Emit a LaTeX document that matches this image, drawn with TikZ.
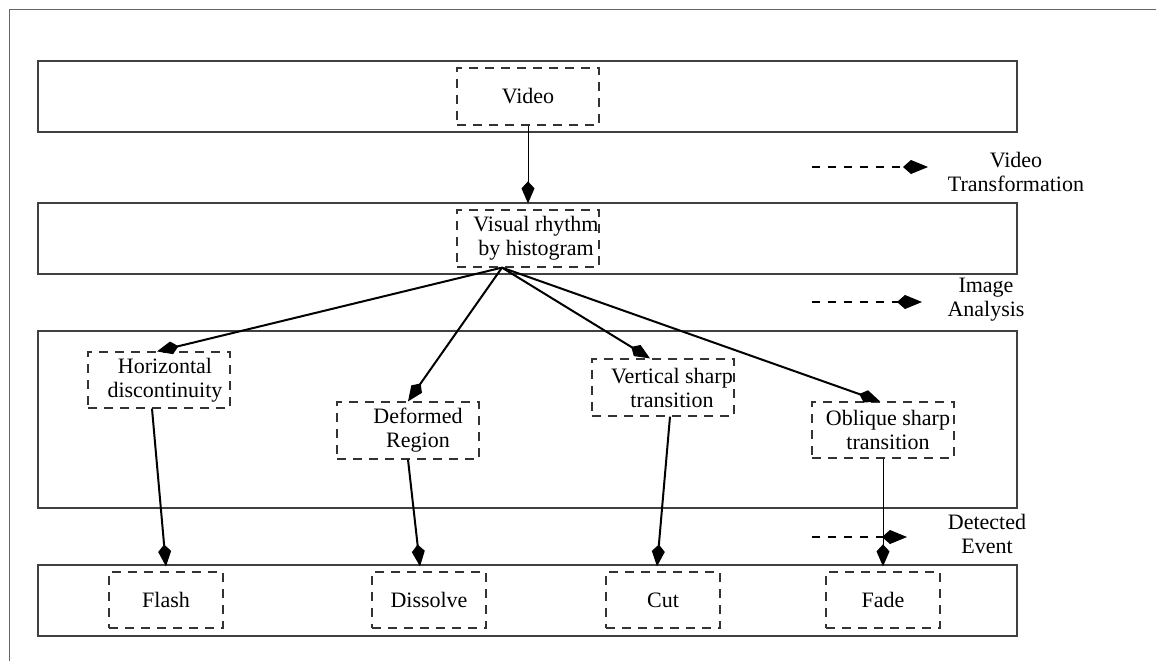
\documentclass[tikz,border=0pt]{standalone}
\usepackage{fontspec}
\setmainfont{Liberation Serif}
\usetikzlibrary{arrows.meta,calc}

\begin{document}
\begin{tikzpicture}[x=1pt,y=-1pt,
  every node/.style={font=\fontsize{22}{24}\selectfont, text=black},
  frame/.style={draw=black!60, line width=1pt},
  layer/.style={draw=black!75, line width=1.5pt, minimum width=979pt, inner sep=0pt},
  dbox/.style={draw=black!80, line width=1.2pt, dash pattern=on 9pt off 7pt,
               inner sep=0pt, minimum height=57pt},
  upper/.style={dbox, minimum width=142pt},
  lower/.style={dbox, minimum width=114pt},
  flow/.style={line width=2pt, -{Kite[length=22pt,width=13pt,inset=7pt]}},
  thinflow/.style={line width=1pt, -{Kite[length=22pt,width=13pt,inset=7pt]}},
  side/.style={line width=1.2pt, dash pattern=on 8pt off 8pt,
               -{Kite[length=25pt,width=14pt,inset=8pt]}},
]
\useasboundingbox (0,0) rectangle (1156,661);

% outer frame (top and left edges)
\draw[frame] (9,661) -- (9,10) -- (1156,10);

% processing layers
\node[layer, minimum height=71pt]  (L1) at (527.5,96.5)  {};
\node[layer, minimum height=71pt]  (L2) at (527.5,238.5) {};
\node[layer, minimum height=177pt] (L3) at (527.5,419.5) {};
\node[layer, minimum height=71pt]  (L4) at (527.5,600.5) {};

% stages
\node[upper] (video) at (528,96.5) {Video};
\node[upper, label={[xshift=8pt, align=center]center:{Visual rhythm\\by histogram}}] (visual) at (528,238.5) {};
\node[upper, minimum height=56pt, label={[xshift=6pt, align=center]center:{Horizontal\\discontinuity}}] (horiz) at (159,380) {};
\node[upper, label={[xshift=10pt, align=center]center:{Deformed\\Region}}] (deformed) at (408,430.5) {};
\node[upper, label={[xshift=9pt, align=center]center:{Vertical sharp\\transition}}] (vertical) at (663,387.5) {};
\node[upper, minimum height=56pt, label={[xshift=5pt, align=center]center:{Oblique sharp\\transition}}] (oblique) at (883,430) {};

\node[lower, minimum height=56pt] (flash)    at (166,600) {Flash};
\node[lower, minimum height=56pt] (dissolve) at (429,600) {Dissolve};
\node[lower, minimum height=56pt] (cut)      at (663,600) {Cut};
\node[lower, minimum height=56pt] (fade)     at (883,600) {Fade};

% connectors
\draw[thinflow] (video.south) -- ([yshift=6pt]visual.north);
\coordinate (fan) at ([xshift=-26pt]visual.south);
\draw[flow] (fan) -- ([xshift=-2pt]horiz.north);
\draw[flow] (fan) -- (deformed.north);
\draw[flow] (fan) -- ([xshift=-13pt]vertical.north);
\draw[flow] (fan) -- ([xshift=-3pt]oblique.north);

\draw[flow] ([xshift=-7pt]horiz.south) -- ([yshift=5pt]flash.north);
\draw[flow] (deformed.south) -- ([xshift=-9pt,yshift=5pt]dissolve.north);
\draw[flow] ([xshift=7pt]vertical.south) -- ([xshift=-6pt,yshift=5pt]cut.north);
\draw[thinflow] (oblique.south) -- ([yshift=5pt]fade.north);

% legend
\node[align=center] (vtlbl) at (1016,172) {Video\\Transformation};
\coordinate (vt0) at (812,167);
\coordinate (vt1) at (928,167);
\draw[side] (vt0) -- (vt1);

\node[align=center] (ialbl) at (986,300) {Image\\Analysis};
\coordinate (ia0) at (812,302);
\coordinate (ia1) at (922,302);
\draw[side] (ia0) -- (ia1);

\node[align=center] (delbl) at (987,534) {Detected\\Event};
\coordinate (de0) at (812,537);
\coordinate (de1) at (907,537);
\draw[side] (de0) -- (de1);
\end{tikzpicture}
\end{document}
